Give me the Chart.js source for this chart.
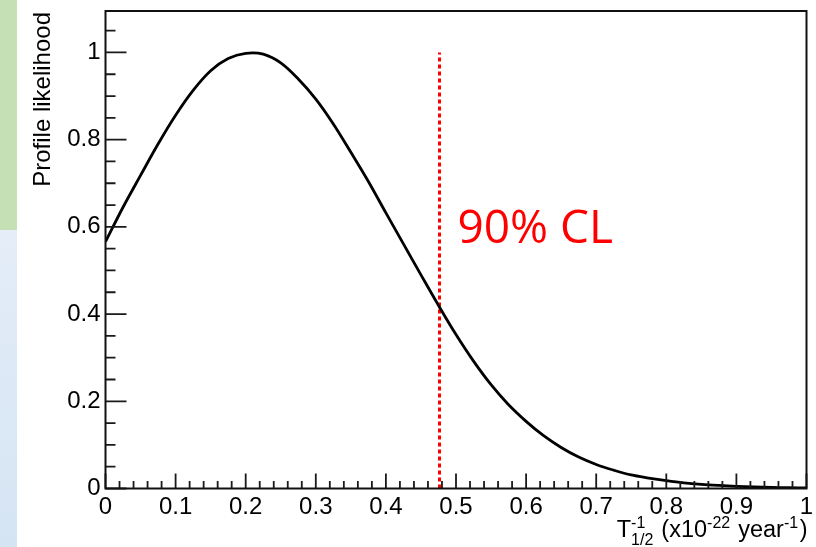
<!DOCTYPE html>
<html>
<head>
<meta charset="utf-8">
<script src="https://cdn.jsdelivr.net/npm/chart.js@4.4.0/dist/chart.umd.min.js"></script>
<style>
  html, body { margin: 0; padding: 0; background: #fff; }
  .wrap { position: relative; width: 816px; height: 547px; overflow: hidden; }
  .side-green { position: absolute; left: 0; top: 0; width: 17px; height: 230px; background: #c5e0b4; }
  .side-blue { position: absolute; left: 0; top: 230px; width: 17px; height: 317px; background: linear-gradient(#e4edf8, #d5e4f3); }
  canvas { position: absolute; left: 0; top: 0; }
</style>
</head>
<body>
<div class="wrap">
  <div class="side-green"></div>
  <div class="side-blue"></div>
  <canvas id="chart-profile" width="816" height="547"></canvas>
</div>
<script>
// inverse half-life (x10^-22 / year) and profile likelihood
const invHalfLife = [
  0, 0.025, 0.05, 0.075, 0.1, 0.125, 0.15, 0.175, 0.2, 0.225,
  0.25, 0.275, 0.3, 0.325, 0.35, 0.375, 0.4, 0.425, 0.45, 0.475,
  0.5, 0.525, 0.55, 0.575, 0.6, 0.625, 0.65, 0.675, 0.7, 0.725,
  0.75, 0.775, 0.8, 0.825, 0.85, 0.875, 0.9, 0.925, 0.95, 0.975, 1.0
];
const likelihood = [
  0.566, 0.645, 0.718, 0.79, 0.856, 0.913, 0.958, 0.986, 0.998, 0.996,
  0.976, 0.939, 0.893, 0.836, 0.771, 0.704, 0.632, 0.561, 0.49, 0.42,
  0.353, 0.292, 0.238, 0.192, 0.154, 0.121, 0.094, 0.072, 0.055, 0.042,
  0.031, 0.024, 0.018, 0.013, 0.0095, 0.007, 0.005, 0.0035, 0.0025, 0.0018, 0.0012
];

// 90% CL upper limit
const clLimit = 0.4765;
const clLabel = "90% CL";

const xTicks = [0, 0.1, 0.2, 0.3, 0.4, 0.5, 0.6, 0.7, 0.8, 0.9, 1];
const yTicks = [0, 0.2, 0.4, 0.6, 0.8, 1];
const yTitle = "Profile likelihood";

const fmt = (v) => String(+v.toFixed(1));
const axisFont = "'Liberation Sans', Arial, Helvetica, sans-serif";

Chart.defaults.font.family = axisFont;

// ROOT style frame with inward ticks
const frameTicks = {
  id: "frameTicks",
  afterDraw(chart) {
    const { ctx, chartArea: a, scales } = chart;
    const xs = scales.x, ys = scales.y;
    ctx.save();
    ctx.strokeStyle = "#1a1a1a";
    ctx.lineWidth = 1.8;
    ctx.beginPath();
    for (let i = 0; i <= 50; i++) {
      const px = xs.getPixelForValue(i / 50);
      const len = i % 5 === 0 ? 15 : 7.5;
      ctx.moveTo(px, a.bottom);
      ctx.lineTo(px, a.bottom - len);
    }
    for (let i = 0; i <= 21; i++) {
      const py = ys.getPixelForValue(i * 0.05);
      const len = i % 4 === 0 ? 21 : 10;
      ctx.moveTo(a.left, py);
      ctx.lineTo(a.left + len, py);
    }
    ctx.stroke();
    ctx.lineWidth = 2;
    ctx.strokeStyle = "#111";
    ctx.strokeRect(a.left, a.top, a.right - a.left, a.bottom - a.top);
    ctx.restore();
  },
};

// axis titles and the CL annotation
const titles = {
  id: "titles",
  afterDraw(chart) {
    const { ctx, chartArea: a, scales } = chart;
    ctx.save();
    ctx.fillStyle = "#000";

    // y title, rotated and pushed to the top of the frame
    ctx.save();
    ctx.translate(50, a.top + 1);
    ctx.rotate(-Math.PI / 2);
    ctx.font = "24px " + axisFont;
    ctx.textAlign = "right";
    ctx.textBaseline = "alphabetic";
    ctx.fillText(yTitle, 0, 0);
    ctx.restore();

    // x title: T^{-1}_{1/2} (x10^{-22} year^{-1})
    const big = "23.5px " + axisFont;
    const small = "16px " + axisFont;
    const parts = [
      { t: "T", f: big },
      { sup: "-1", sub: "1/2" },
      { t: " (x10", f: big },
      { sup: "-22" },
      { t: " year", f: big },
      { sup: "-1" },
      { t: ")", f: big },
    ];
    const widthOf = (p) => {
      if (p.t) { ctx.font = p.f; return ctx.measureText(p.t).width; }
      ctx.font = small;
      const w1 = ctx.measureText(p.sup).width;
      const w2 = p.sub ? ctx.measureText(p.sub).width : 0;
      return Math.max(w1, w2) + 1.5;
    };
    const total = parts.reduce((s, p) => s + widthOf(p), 0);
    const base = 537;
    let x = a.right + 1 - total;
    ctx.textAlign = "left";
    ctx.textBaseline = "alphabetic";
    parts.forEach((p) => {
      const w = widthOf(p);
      if (p.t) {
        ctx.font = p.f;
        ctx.fillText(p.t, x, base);
      } else {
        ctx.font = small;
        ctx.fillText(p.sup, x, base - 9);
        if (p.sub) ctx.fillText(p.sub, x, base + 8);
      }
      x += w;
    });

    // CL label
    ctx.font = "46px 'Open Sans', sans-serif";
    ctx.fillStyle = "#ff0000";
    ctx.fillText(clLabel, scales.x.getPixelForValue(0.502), scales.y.getPixelForValue(0.564));
    ctx.restore();
  },
};

const ctx1 = document.getElementById("chart-profile").getContext("2d");
new Chart(ctx1, {
  type: "scatter",
  data: {
    datasets: [
      {
        label: "profile",
        data: invHalfLife.map((v, i) => ({ x: v, y: likelihood[i] })),
        showLine: true,
        borderColor: "#000",
        borderWidth: 2.8,
        pointRadius: 0,
        tension: 0.35,
        fill: false,
      },
      {
        label: "limit",
        data: [{ x: clLimit, y: 0 }, { x: clLimit, y: 1 }],
        showLine: true,
        borderColor: "#ff0000",
        borderWidth: 3,
        borderDash: [4, 3],
        pointRadius: 0,
        fill: false,
      },
    ],
  },
  options: {
    responsive: false,
    animation: false,
    devicePixelRatio: 1,
    layout: {
      autoPadding: false,
      padding: { left: 0, right: 9.5, top: 11, bottom: 0 },
    },
    plugins: {
      legend: { display: false },
      tooltip: { enabled: false },
    },
    scales: {
      x: {
        type: "linear",
        min: 0,
        max: 1,
        afterBuildTicks: (s) => { s.ticks = xTicks.map((v) => ({ value: v })); },
        afterFit: (s) => {
          s.height = 58.5;
          s.paddingLeft = 0;
          s.paddingRight = 0;
        },
        grid: { display: false, drawTicks: false },
        border: { display: false },
        ticks: {
          color: "#000",
          font: { size: 24 },
          padding: 4,
          maxRotation: 0,
          autoSkip: false,
          callback: (v) => fmt(v),
        },
      },
      y: {
        type: "linear",
        min: 0,
        max: 1.095,
        afterBuildTicks: (s) => { s.ticks = yTicks.map((v) => ({ value: v })); },
        afterFit: (s) => {
          s.width = 105.5;
          s.paddingTop = 0;
          s.paddingBottom = 0;
        },
        grid: { display: false, drawTicks: false },
        border: { display: false },
        ticks: {
          color: "#000",
          font: { size: 24 },
          padding: 5,
          autoSkip: false,
          callback: (v) => fmt(v),
        },
      },
    },
  },
  plugins: [frameTicks, titles],
});
</script>
</body>
</html>
